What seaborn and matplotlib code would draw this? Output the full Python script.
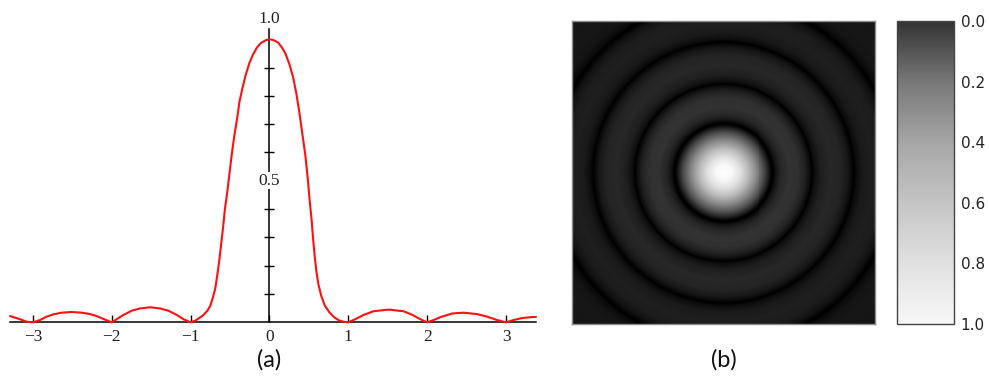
import numpy as np
import pandas as pd
import matplotlib
matplotlib.use("Agg")
import matplotlib.pyplot as plt
import seaborn as sns
from matplotlib.colors import LinearSegmentedColormap, Normalize
from matplotlib.cm import ScalarMappable

# (a) diffraction intensity profile
x_vals = [-3.29, -3.164, -3.079, -3.0,
          -2.910, -2.825, -2.741, -2.635, -2.508, -2.381, -2.275, -2.190, -2.107, -2.0,
          -1.937, -1.852, -1.746, -1.641, -1.514, -1.387, -1.282, -1.175, -1.091, -1.0,
          -0.94, -0.88, -0.84, -0.79, -0.75, -0.715, -0.69, -0.665, -0.64, -0.615,
          -0.59, -0.565, -0.535, -0.505, -0.475, -0.445, -0.41, -0.38, -0.34, -0.30,
          -0.255, -0.21, -0.16, -0.11, -0.05, 0.0,
          0.05, 0.11, 0.16, 0.205, 0.255, 0.30, 0.34, 0.38, 0.42, 0.455, 0.485,
          0.51, 0.535, 0.555, 0.575, 0.595, 0.62, 0.655, 0.70, 0.76, 0.82, 0.88,
          0.94, 1.0,
          1.088, 1.193, 1.320, 1.510, 1.701, 1.807, 1.912, 2.0,
          2.081, 2.166, 2.315, 2.462, 2.632, 2.759, 2.886, 3.0,
          3.096, 3.203, 3.308, 3.38]
y_vals = [0.022, 0.011, 0.002, 0.0,
          0.008, 0.020, 0.028, 0.034, 0.0365, 0.034, 0.029, 0.022, 0.012, 0.0,
          0.011, 0.026, 0.041, 0.049, 0.053, 0.049, 0.041, 0.026, 0.011, 0.0,
          0.006, 0.017, 0.025, 0.040, 0.058, 0.090, 0.115, 0.16, 0.21, 0.27,
          0.33, 0.40, 0.46, 0.53, 0.60, 0.66, 0.72, 0.78, 0.83, 0.875,
          0.915, 0.945, 0.97, 0.986, 0.996, 1.0,
          0.997, 0.988, 0.97, 0.948, 0.91, 0.865, 0.81, 0.74, 0.66, 0.59, 0.51,
          0.43, 0.36, 0.29, 0.23, 0.18, 0.135, 0.095, 0.06, 0.035, 0.018, 0.007,
          0.002, 0.0,
          0.011, 0.026, 0.039, 0.045, 0.039, 0.027, 0.011, 0.0,
          0.008, 0.018, 0.031, 0.034, 0.029, 0.020, 0.008, 0.0,
          0.008, 0.015, 0.018, 0.019]
x_ticks = [-3, -2, -1, 0, 1, 2, 3]
x_tick_labels = ["\u22123", "\u22122", "\u22121", "0", "1", "2", "3"]
y_minor_ticks = [0.1, 0.2, 0.3, 0.4, 0.5, 0.6, 0.7, 0.8, 0.9]
y_labels = {"0.5": 0.5, "1.0": 1.072}

# (b) Airy pattern: radial brightness profile (radius in image pixels)
ring_radius_px = [0, 8, 16, 24, 32, 40, 45, 48, 50, 53, 58, 66, 75, 82, 87,
                  89, 92, 98, 108, 118, 125, 129, 131, 134, 140, 150, 160,
                  167, 171, 173, 176, 183, 195, 215]
ring_brightness = [1.00, 0.97, 0.88, 0.74, 0.55, 0.32, 0.14, 0.02, 0.0,
                   0.08, 0.15, 0.20, 0.19, 0.13, 0.05, 0.0, 0.06, 0.12,
                   0.155, 0.14, 0.09, 0.03, 0.0, 0.05, 0.10, 0.12, 0.11,
                   0.07, 0.02, 0.0, 0.04, 0.08, 0.09, 0.08]
cbar_ticks = [0.0, 0.2, 0.4, 0.6, 0.8, 1.0]
cbar_gray_levels = [0.20, 0.47, 0.65, 0.77, 0.88, 0.97]

sns.set_theme(style="white")
plt.rcParams["font.family"] = ["DejaVu Sans"]

W, H = 989, 380
fig = plt.figure(figsize=(W / 100, H / 100), dpi=100)
fig.patch.set_facecolor("white")


def box(x0, y0, x1, y1):
    return [x0 / W, 1 - y1 / H, (x1 - x0) / W, (y1 - y0) / H]


# ---- left panel: line profile with axes crossing at the origin ----
ax = fig.add_axes(box(10, 29, 536, 322.3))
df = pd.DataFrame({"x": x_vals, "y": y_vals})
sns.lineplot(data=df, x="x", y="y", ax=ax, color="#ff1010", linewidth=1.5,
             sort=False, estimator=None)
for ln in ax.lines:
    ln.set_clip_on(False)
    ln.set_zorder(3)
    ln.set_solid_joinstyle("round")
ax.set_xlim(-3.29, 3.38)
ax.set_ylim(0, 1.036)
ax.set_xlabel("")
ax.set_ylabel("")
ax.set_facecolor("white")
ax.grid(False)
for s in ("top", "right"):
    ax.spines[s].set_visible(False)
ax.spines["left"].set_position(("data", 0))
for s in ("left", "bottom"):
    ax.spines[s].set_color("black")
    ax.spines[s].set_linewidth(1.1)
    ax.spines[s].set_zorder(2)

ax.set_xticks(x_ticks)
ax.set_xticklabels(x_tick_labels, fontfamily="Liberation Serif", fontsize=12.5)
ax.tick_params(axis="x", direction="in", length=5, width=1, color="black",
               pad=5, bottom=True, labelcolor="#222222")
ax.set_yticks(y_minor_ticks)
ax.tick_params(axis="y", direction="inout", length=7, width=1, color="black",
               left=True, labelleft=False)
for txt, yy in y_labels.items():
    ax.text(0, yy, txt, ha="center", va="center", fontfamily="Liberation Serif",
            fontsize=12.5, color="#222222", clip_on=False, zorder=4,
            bbox=dict(facecolor="white", edgecolor="none", pad=0.4))

fig.text(269 / W, 1 - 360 / H, "(a)", ha="center", va="center",
         fontfamily="Lato", fontsize=17, color="#111111")

# ---- right panel: Airy disk image ----
ax2 = fig.add_axes(box(572.3, 20.7, 875, 324.3))
n = 304
c = np.arange(n) - (n - 1) / 2
X, Y = np.meshgrid(c, c)
img = np.interp(np.hypot(X, Y), ring_radius_px, ring_brightness)
sns.heatmap(img, ax=ax2, cmap="gray", vmin=0, vmax=1, cbar=False,
            xticklabels=False, yticklabels=False, rasterized=True)
for sp in ax2.spines.values():
    sp.set_visible(True)
    sp.set_color("#8c8c8c")
    sp.set_linewidth(1.0)

cax = fig.add_axes(box(897.3, 21, 953.7, 324))
bar_cmap = LinearSegmentedColormap.from_list(
    "bar", list(zip(cbar_ticks, [(g, g, g) for g in cbar_gray_levels])))
cb = fig.colorbar(ScalarMappable(norm=Normalize(0, 1), cmap=bar_cmap), cax=cax)
cax.invert_yaxis()
cb.set_ticks(cbar_ticks)
cb.set_ticklabels([f"{t:.1f}" for t in cbar_ticks])
cb.ax.tick_params(length=0, pad=5, labelsize=11, labelcolor="#222222")
cb.outline.set_edgecolor("#444444")
cb.outline.set_linewidth(1.0)

fig.text(724 / W, 1 - 360 / H, "(b)", ha="center", va="center",
         fontfamily="Lato", fontsize=17, color="#111111")

fig.savefig("out.png", dpi=100, facecolor="white")
